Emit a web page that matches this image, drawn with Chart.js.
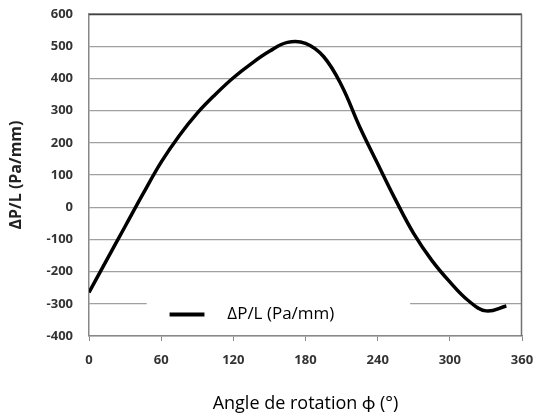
<!DOCTYPE html>
<html>
<head>
<meta charset="utf-8">
<script src="https://cdn.jsdelivr.net/npm/chart.js@4"></script>
<style>
  html, body { margin: 0; padding: 0; background: #fff; }
  #wrap { width: 535px; height: 419px; position: relative; }
</style>
</head>
<body>
<div id="wrap"><canvas id="dpChart" width="535" height="419"></canvas></div>
<script>
// values
const angles = [0, 15, 30, 45, 60, 75, 90, 105, 120, 135, 150, 165, 180, 195, 210, 225, 240, 255, 270, 285, 300, 315, 330, 347];
const dpValues = [-265, -162, -60, 42, 140, 222, 292, 350, 402, 446, 484, 512, 509, 468, 378, 250, 135, 22, -82, -165, -232, -289, -322, -307];
const seriesLabel = "ΔP/L (Pa/mm)";
const xTitle = "Angle de rotation ϕ (°)";
const yTitle = "ΔP/L (Pa/mm)";

const FONT = "'Open Sans', Lato, sans-serif";

// white legend box sitting inside the plot, like the Excel one
const insideLegend = {
  id: "insideLegend",
  beforeDatasetsDraw(chart) {
    const ctx = chart.ctx;
    const x = chart.scales.x;
    const y = chart.scales.y;
    const area = chart.chartArea;
    const left = x.getPixelForValue(48);
    const right = x.getPixelForValue(267);
    const top = y.getPixelForValue(-270);
    const mid = y.getPixelForValue(-333);
    ctx.save();
    ctx.fillStyle = "#fff";
    ctx.fillRect(left, top, right - left, area.bottom - 1 - top);
    ctx.strokeStyle = "#000";
    ctx.lineWidth = 4;
    ctx.beginPath();
    ctx.moveTo(x.getPixelForValue(67), mid);
    ctx.lineTo(x.getPixelForValue(96), mid);
    ctx.stroke();
    ctx.fillStyle = "#000";
    ctx.font = "17px " + FONT;
    ctx.textBaseline = "middle";
    ctx.fillText(chart.data.datasets[0].label, x.getPixelForValue(115), mid);
    ctx.restore();
  },
  afterDraw(chart) {
    const ctx = chart.ctx;
    const a = chart.chartArea;
    ctx.save();
    ctx.lineWidth = 1.5;
    ctx.strokeStyle = "#404040";
    ctx.beginPath();
    ctx.moveTo(a.left, a.top + 0.5);
    ctx.lineTo(a.right, a.top + 0.5);
    ctx.stroke();
    ctx.strokeStyle = "#707070";
    ctx.beginPath();
    ctx.moveTo(a.right - 0.5, a.top);
    ctx.lineTo(a.right - 0.5, a.bottom);
    ctx.stroke();
    ctx.restore();
  }
};

new Chart(document.getElementById("dpChart").getContext("2d"), {
  type: "line",
  data: {
    datasets: [
      {
        label: seriesLabel,
        data: angles.map((a, i) => ({ x: a, y: dpValues[i] })),
        borderColor: "#000",
        borderWidth: 3.5,
        pointRadius: 0,
        tension: 0.4,
        fill: false,
      },
    ],
  },
  options: {
    responsive: false,
    animation: false,
    layout: { padding: { left: 0, right: 13, top: 14, bottom: 0 } },
    plugins: {
      legend: { display: false },
      tooltip: { enabled: false },
    },
    scales: {
      x: {
        type: "linear",
        min: 0,
        max: 360,
        afterFit: (s) => { s.height = 83; s.paddingLeft = 0; s.paddingRight = 0; },
        ticks: {
          stepSize: 60,
          padding: 11,
          color: "#333",
          font: { family: FONT, size: 13, weight: "bold" },
        },
        grid: { drawOnChartArea: false, drawTicks: true, tickLength: 5, color: "#888" },
        border: { color: "#888", width: 1.5 },
        title: {
          display: true,
          text: xTitle,
          color: "#000",
          font: { family: FONT, size: 18 },
          padding: { top: 0, bottom: 4 },
        },
      },
      y: {
        min: -400,
        max: 600,
        afterFit: (s) => { s.width = 89; s.paddingTop = 0; s.paddingBottom = 0; },
        ticks: {
          stepSize: 100,
          padding: 16,
          color: "#333",
          font: { family: FONT, size: 13, weight: "bold" },
        },
        grid: { color: "#a0a0a0", drawTicks: false, lineWidth: 1.2 },
        border: { color: "#888", width: 1.5 },
        title: {
          display: true,
          text: yTitle,
          color: "#222",
          font: { family: FONT, size: 16, weight: "bold" },
          padding: { top: 7, bottom: 0 },
        },
      },
    },
  },
  plugins: [insideLegend],
});
</script>
</body>
</html>
